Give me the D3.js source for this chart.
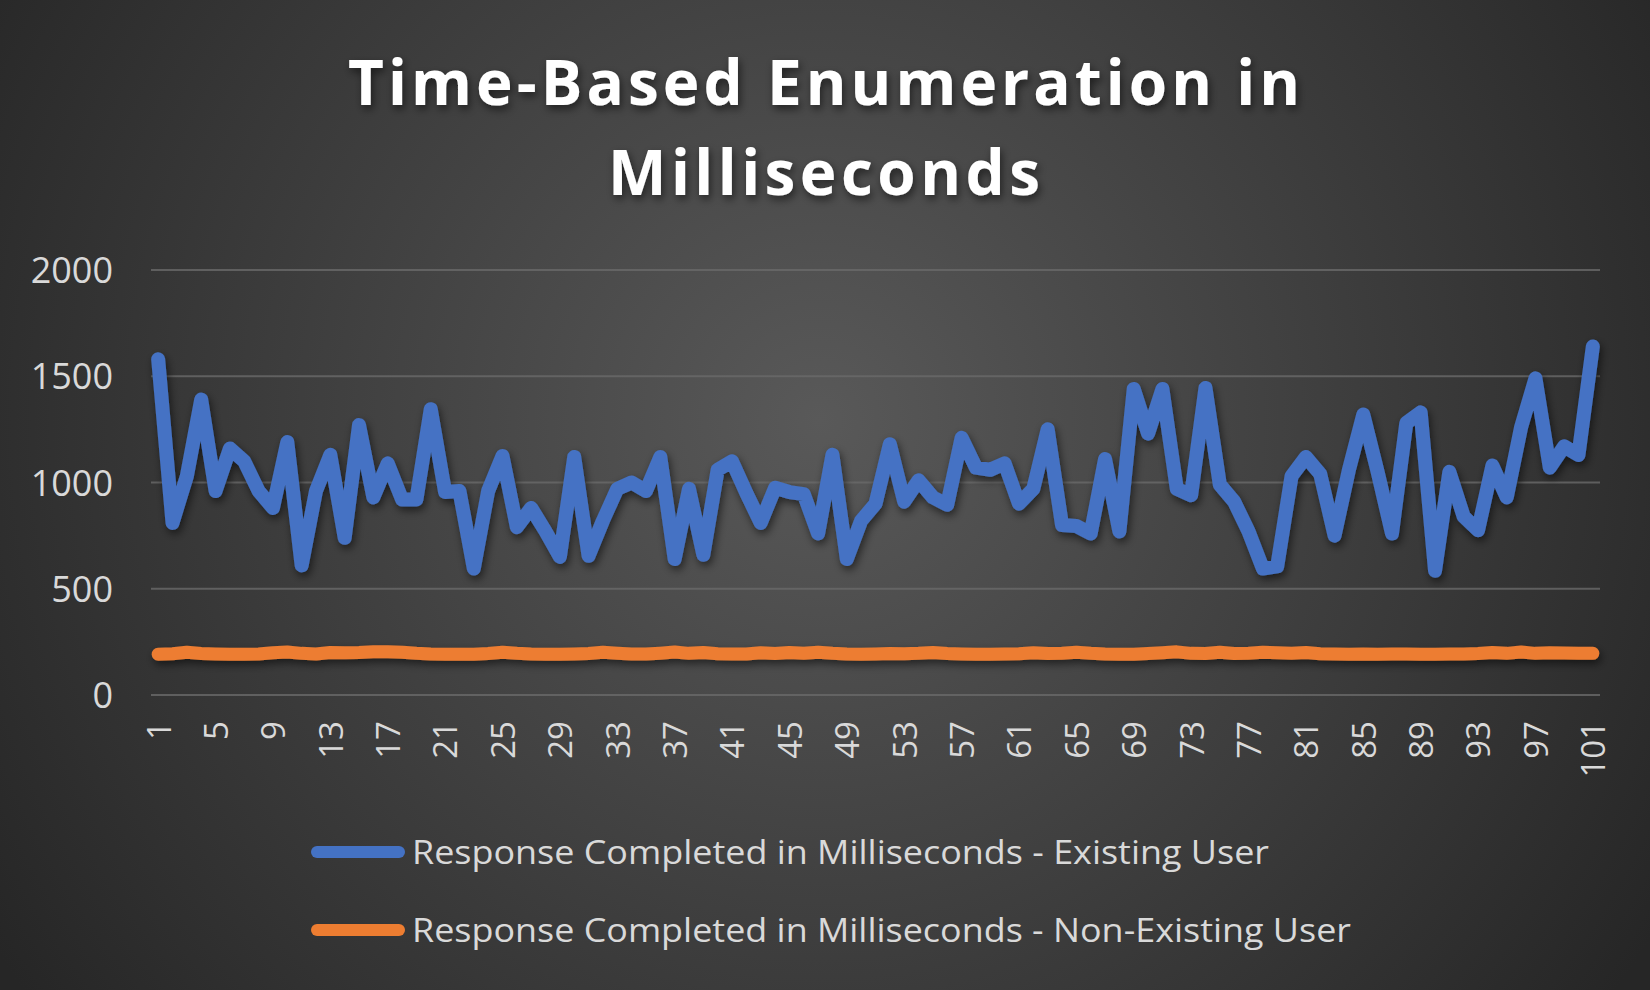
<!DOCTYPE html>
<html><head><meta charset="utf-8">
<script src="https://cdn.jsdelivr.net/npm/d3@7"></script>
<style>html,body{margin:0;padding:0;background:#333;}svg{display:block;}</style>
</head><body>
<svg id="chart" width="1650" height="990"></svg>
<script>
const categories = d3.range(1, 102);
const existingUser = [
 1580, 810, 1030, 1390, 960, 1160, 1100, 960, 880, 1190,
 610, 960, 1130, 740, 1270, 930, 1090, 920, 920, 1345,
 955, 960, 595, 960, 1125, 790, 880, 770, 650, 1120,
 655, 820, 970, 1000, 960, 1120, 640, 970, 660, 1060,
 1100, 950, 810, 975, 955, 945, 760, 1130, 640, 820,
 900, 1180, 910, 1010, 930, 895, 1210, 1070, 1060, 1090,
 900, 970, 1250, 800, 795, 760, 1110, 770, 1440, 1230,
 1440, 970, 940, 1445, 990, 910, 770, 595, 605, 1030,
 1120, 1040, 750, 1060, 1320, 1050, 760, 1280, 1330, 585,
 1050, 840, 775, 1080, 930, 1260, 1490, 1070, 1170, 1130,
 1640];
const nonExistingUser = [
 192, 194, 201, 195, 193, 192, 192, 193, 199, 202,
 196, 193, 200, 199, 200, 203, 204, 201, 196, 193,
 192, 192, 192, 195, 201, 196, 193, 192, 192, 193,
 195, 201, 197, 193, 193, 197, 202, 196, 200, 194,
 193, 193, 199, 195, 200, 196, 201, 196, 193, 192,
 193, 195, 194, 196, 200, 195, 193, 192, 192, 193,
 194, 199, 195, 197, 201, 196, 193, 192, 192, 195,
 199, 203, 196, 195, 201, 195, 197, 201, 199, 197,
 200, 194, 193, 192, 193, 192, 193, 193, 192, 192,
 193, 193, 195, 200, 196, 202, 196, 199, 198, 196,
 196];
const yTicks = [0, 500, 1000, 1500, 2000];
const xTickLabels = categories.filter(d => (d - 1) % 4 === 0);
const seriesNames = ["Response Completed in Milliseconds - Existing User",
                     "Response Completed in Milliseconds - Non-Existing User"];
const seriesColors = ["#4472c4", "#ed7d31"];
const titleLines = ["Time-Based Enumeration in", "Milliseconds"];

const svg = d3.select("#chart");
const defs = svg.append("defs");
const bg = defs.append("radialGradient").attr("id", "bg")
  .attr("gradientUnits", "userSpaceOnUse")
  .attr("cx", 820).attr("cy", 420).attr("r", 980);
bg.append("stop").attr("offset", "0").attr("stop-color", "#595959");
bg.append("stop").attr("offset", "1").attr("stop-color", "#262626");
const sh = defs.append("filter").attr("id", "shadow")
  .attr("filterUnits", "userSpaceOnUse")
  .attr("x", 0).attr("y", 0).attr("width", 1650).attr("height", 990);
sh.append("feDropShadow").attr("dx", 2).attr("dy", 4).attr("stdDeviation", 4)
  .attr("flood-color", "#000").attr("flood-opacity", 0.55);

svg.append("rect").attr("width", 1650).attr("height", 990).attr("fill", "url(#bg)");

const x = d3.scalePoint().domain(categories).range([151, 1600]).padding(0.5);
const y = d3.scaleLinear().domain([0, 2000]).range([695, 270]);

// gridlines
svg.append("g").selectAll("line").data(yTicks).join("line")
  .attr("x1", 151).attr("x2", 1600)
  .attr("y1", d => y(d)).attr("y2", d => y(d))
  .attr("stroke", "#6a6a6a").attr("stroke-width", 2).attr("opacity", 0.8);

// y axis labels
const yAxis = d3.axisLeft(y).tickValues(yTicks).tickFormat(d3.format("d")).tickSize(0).tickPadding(0);
const gy = svg.append("g").attr("transform", "translate(113,0)").call(yAxis);
gy.select(".domain").remove();
gy.selectAll("text").attr("font-family", "Open Sans, sans-serif")
  .attr("font-size", 36).attr("fill", "#d9d9d9").attr("dy", "0.35em");

// x axis labels
const xAxis = d3.axisBottom(x).tickValues(xTickLabels).tickSize(0).tickPadding(0);
const gx = svg.append("g").attr("transform", "translate(0,721)").call(xAxis);
gx.select(".domain").remove();
gx.selectAll("text").attr("font-family", "Open Sans, sans-serif")
  .attr("font-size", 33).attr("fill", "#d9d9d9")
  .attr("transform", "rotate(-90)").attr("text-anchor", "end")
  .attr("x", 0).attr("y", 0).attr("dy", "0.36em");

// lines
const line = d3.line().x((d, i) => x(categories[i])).y(d => y(d));
[existingUser, nonExistingUser].forEach((s, k) => {
  svg.append("path").datum(s).attr("d", line)
    .attr("fill", "none").attr("stroke", seriesColors[k])
    .attr("stroke-width", k === 0 ? 14 : 13).attr("stroke-linejoin", "round").attr("stroke-linecap", "round")
    .attr("filter", "url(#shadow)");
});

// title
svg.append("g").selectAll("text").data(titleLines).join("text")
  .attr("x", 824).attr("y", (d, i) => 105 + i * 90)
  .attr("text-anchor", "middle")
  .attr("font-family", "Open Sans, sans-serif").attr("font-weight", 700)
  .attr("font-size", 62).attr("fill", "#ffffff")
  .attr("textLength", (d, i) => i === 0 ? 952 : 432).attr("lengthAdjust", "spacing")
  .attr("filter", "url(#shadow)")
  .text(d => d);

// legend
const lg = svg.append("g").selectAll("g").data(seriesNames).join("g")
  .attr("transform", (d, i) => `translate(0,${852 + i * 78})`);
lg.append("line").attr("x1", 317).attr("x2", 399).attr("y1", 0).attr("y2", 0)
  .attr("stroke", (d, i) => seriesColors[i]).attr("stroke-width", 12)
  .attr("stroke-linecap", "round");
lg.append("text").attr("x", 412).attr("y", 0).attr("dy", "0.35em")
  .attr("font-family", "Open Sans, sans-serif").attr("font-size", 33)
  .attr("fill", "#d9d9d9")
  .attr("textLength", (d, i) => i === 0 ? 857 : 939).attr("lengthAdjust", "spacingAndGlyphs")
  .text(d => d);
</script>
</body></html>
